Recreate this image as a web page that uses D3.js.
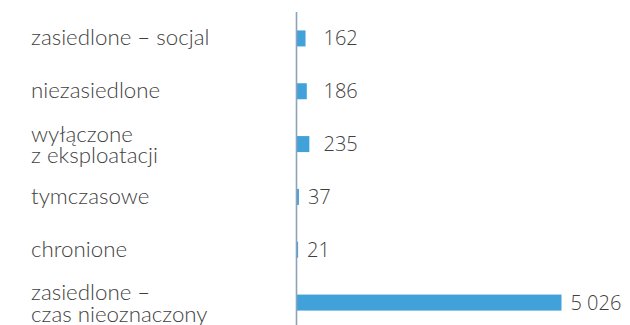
<!DOCTYPE html>
<html>
<head>
<meta charset="utf-8">
<script src="https://cdn.jsdelivr.net/npm/d3@7"></script>
<style>
  html, body { margin: 0; padding: 0; background: #ffffff; }
  svg { display: block; }
</style>
</head>
<body>
<svg id="chart" width="630" height="325"></svg>
<script>
// Category labels (line breaks split with "\n") and their values
const categories = [
  "zasiedlone – socjal",
  "niezasiedlone",
  "wyłączone\nz eksploatacji",
  "tymczasowe",
  "chronione",
  "zasiedlone –\nczas nieoznaczony"
];
const values = [162, 186, 235, 37, 21, 5026];
const valueLabels = ["162", "186", "235", "37", "21", "5 026"];

const width = 630, height = 325;
const axisX = 296.5;
const svg = d3.select("#chart");

const x = d3.scaleLinear()
  .domain([0, 5026])
  .range([axisX, 561]);

const y = d3.scaleBand()
  .domain(categories)
  .range([12, 329])
  .paddingInner(0.697)
  .paddingOuter(0.3485);

const barColor = "#41a2da";
const textColor = "#3f3f3f";

// Bars
svg.append("g")
  .selectAll("rect")
  .data(values)
  .join("rect")
  .attr("x", axisX - 0.5)
  .attr("y", (d, i) => y(categories[i]))
  .attr("width", d => x(d) - axisX + 1)
  .attr("height", y.bandwidth())
  .attr("fill", barColor);

// Vertical category axis line
svg.append("line")
  .attr("x1", axisX).attr("x2", axisX)
  .attr("y1", 12).attr("y2", height)
  .attr("stroke", "#8ea2b9")
  .attr("stroke-width", 1.6);

// Category labels on the left, one text element per line
const lineHeight = 21.5;
const catLines = [];
categories.forEach(cat => {
  const lines = cat.split("\n");
  const c = y(cat) + y.bandwidth() / 2;
  const first = c + 7 - (lines.length - 1) * (lineHeight / 2 - 1.5);
  lines.forEach((ln, k) => catLines.push({ text: ln, y: first + k * lineHeight }));
});

svg.append("g")
  .attr("font-family", "Lato, 'Open Sans', sans-serif")
  .attr("font-size", 22.3)
  .attr("font-weight", 300)
  .attr("fill", textColor)
  .selectAll("text")
  .data(catLines)
  .join("text")
  .attr("x", 31)
  .attr("y", d => d.y)
  .text(d => d.text);

// Value labels; the short bars at the top share one label column
const sharedColumnRows = 3;
const sharedColumnX = axisX + 27;
svg.append("g")
  .attr("font-family", "'Open Sans', 'Noto Sans', sans-serif")
  .attr("font-size", 20)
  .attr("font-weight", 300)
  .attr("fill", textColor)
  .selectAll("text")
  .data(values)
  .join("text")
  .attr("x", (d, i) => i < sharedColumnRows ? Math.max(sharedColumnX, x(d) + 9.5) : x(d) + 9.5)
  .attr("y", (d, i) => y(categories[i]) + y.bandwidth() / 2 + 7)
  .text((d, i) => valueLabels[i]);
</script>
</body>
</html>
